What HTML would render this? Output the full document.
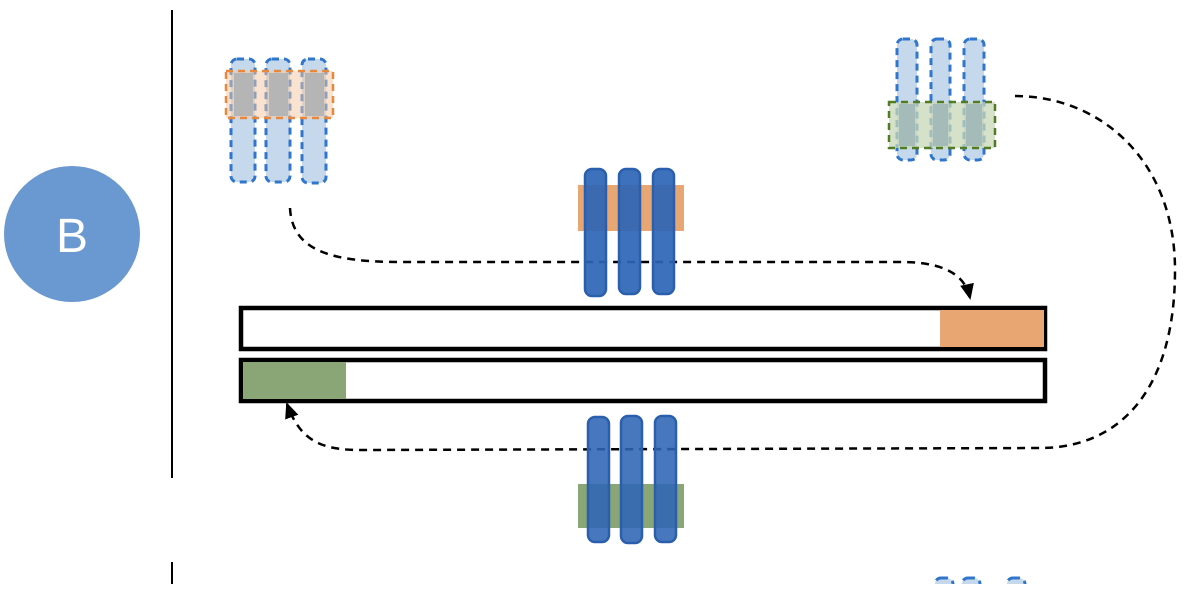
<!DOCTYPE html>
<html><head><style>body{margin:0;background:#fff;width:1194px;height:584px;overflow:hidden}</style></head>
<body>
<svg width="1194" height="584" xmlns="http://www.w3.org/2000/svg">
<defs>
<marker id="b" markerWidth="16" markerHeight="16" refX="14" refY="8" orient="auto" markerUnits="userSpaceOnUse" viewBox="0 0 16 16"><path d="M0,1 L16,8 L0,15z" fill="#000"/></marker></defs>
<line x1="172" y1="10" x2="172" y2="478" stroke="#000" stroke-width="2"/>
<line x1="172" y1="562" x2="172" y2="584" stroke="#000" stroke-width="2"/>
<circle cx="72" cy="234" r="68" fill="#6a98d0"/>
<text x="72" y="252" font-family="Liberation Sans, sans-serif" font-size="48" fill="#fff" text-anchor="middle">B</text>
<g stroke="#2f76cc" stroke-width="3" stroke-dasharray="7,5" fill="#c6d8ec">
<rect x="231" y="59" width="24" height="123" rx="6"/><rect x="266" y="59" width="24" height="123" rx="6"/><rect x="302" y="59" width="24" height="124" rx="6"/></g>
<rect x="226" y="71" width="107" height="47" fill="#f4c7a2" fill-opacity="0.5" stroke="#e8883e" stroke-width="2.5" stroke-dasharray="7,5"/>
<g fill="#b5b5b5"><rect x="234" y="73" width="19" height="43"/><rect x="269" y="73" width="19" height="43"/><rect x="305" y="73" width="19" height="43"/></g>
<g stroke="#2f76cc" stroke-width="3" stroke-dasharray="7,5" fill="#c6d8ec">
<rect x="897" y="39" width="20" height="121" rx="6"/><rect x="931" y="39" width="19" height="121" rx="6"/><rect x="964" y="39" width="20" height="121" rx="6"/></g>
<rect x="889" y="102" width="106" height="46" fill="#c7d7b5" fill-opacity="0.75" stroke="#4f7c24" stroke-width="2.5" stroke-dasharray="7,5"/>
<g fill="#9db5b8" opacity="0.8"><rect x="899" y="104" width="16" height="42"/><rect x="933" y="104" width="15" height="42"/><rect x="966" y="104" width="16" height="42"/></g>
<path d="M290,208 C292,250 330,262 400,262 L900,262 C945,262 965,275 970,298" fill="none" stroke="#000" stroke-width="2.5" stroke-dasharray="8,6" marker-end="url(#b)"/>
<path d="M1015,96 C1100,96 1175,160 1175,270 C1175,390 1120,448 1040,448 L360,450 C320,450 300,440 287,404" fill="none" stroke="#000" stroke-width="2.5" stroke-dasharray="8,6" marker-end="url(#b)"/>
<rect x="241" y="308" width="804" height="41" fill="#fff" stroke="#000" stroke-width="4.5"/>
<rect x="940" y="310" width="104" height="37" fill="#e8a672"/>
<rect x="241" y="360" width="804" height="41" fill="#fff" stroke="#000" stroke-width="4.5"/>
<rect x="243" y="362" width="103" height="37" fill="#8aa676"/>
<rect x="578" y="185" width="106" height="46" fill="#e8a672"/>
<g fill="#2d65b5" fill-opacity="0.92" stroke="#2a5fae" stroke-width="2.5">
<rect x="585" y="169" width="21" height="127" rx="7"/><rect x="619" y="169" width="21" height="125" rx="7"/><rect x="653" y="169" width="21" height="125" rx="7"/></g>
<rect x="578" y="484" width="106" height="44" fill="#8aa676"/>
<g fill="#2d65b5" fill-opacity="0.88" stroke="#2a5fae" stroke-width="2.5">
<rect x="588" y="417" width="21" height="125" rx="7"/><rect x="621" y="416" width="21" height="127" rx="7"/><rect x="655" y="416" width="21" height="126" rx="7"/></g>
<g stroke="#2f76cc" stroke-width="3" stroke-dasharray="7,5" fill="#c6d8ec">
<rect x="935" y="578" width="18" height="20" rx="6"/><rect x="962" y="578" width="18" height="20" rx="6"/><rect x="1007" y="578" width="18" height="20" rx="6"/></g>
</svg>
</body></html>
